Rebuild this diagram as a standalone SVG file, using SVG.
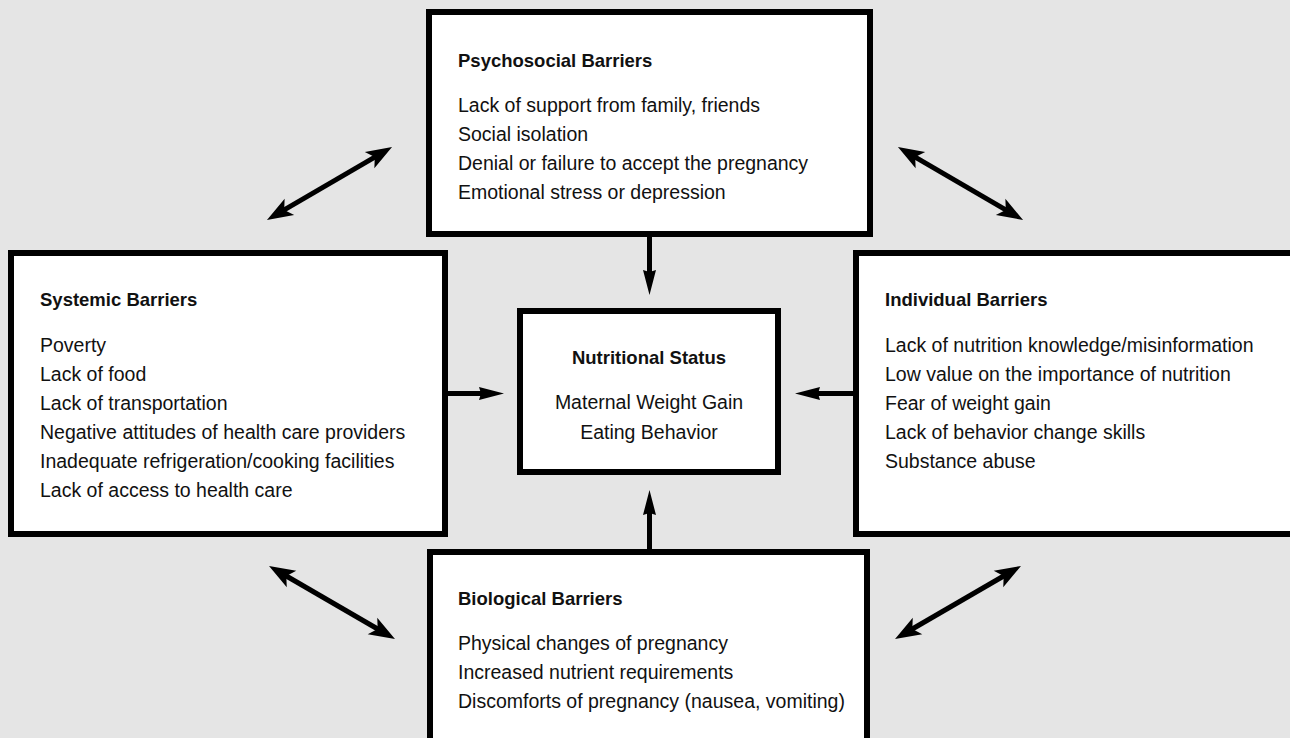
<svg xmlns="http://www.w3.org/2000/svg" width="1290" height="738" viewBox="0 0 1290 738">
<style>
.box{fill:#fff;stroke:#000;stroke-width:6}
.t{font-family:"Liberation Sans",Arial,sans-serif;font-size:19.5px;fill:#111}
.h{font-family:"Liberation Sans",Arial,sans-serif;font-size:18.5px;font-weight:bold;fill:#111}
.c{text-anchor:middle}
.ln{stroke:#000;stroke-width:5;fill:none}
</style>
<defs>
<marker id="dh" markerUnits="userSpaceOnUse" viewBox="-28 -12 30 24" markerWidth="30" markerHeight="24" refX="-18" refY="0" orient="auto-start-reverse">
<path d="M0,0 L-26,-9.5 L-20,0 L-26,9.5 Z" fill="#000"/>
</marker>
<marker id="sh" markerUnits="userSpaceOnUse" viewBox="-28 -10 30 20" markerWidth="30" markerHeight="20" refX="-22" refY="0" orient="auto">
<path d="M0,0 L-25,-6.5 L-23,0 L-25,6.5 Z" fill="#000"/>
</marker>
</defs>
<rect width="1290" height="738" fill="#e5e5e5"/>
<g id="connectors">
<line class="ln" x1="282.5" y1="210.9" x2="376.5" y2="156.1" marker-start="url(#dh)" marker-end="url(#dh)"/>
<line class="ln" x1="913.5" y1="156.1" x2="1007.5" y2="210.9" marker-start="url(#dh)" marker-end="url(#dh)"/>
<line class="ln" x1="284.6" y1="575" x2="379.4" y2="630" marker-start="url(#dh)" marker-end="url(#dh)"/>
<line class="ln" x1="910.6" y1="630" x2="1005.4" y2="575" marker-start="url(#dh)" marker-end="url(#dh)"/>
<line class="ln" x1="649.5" y1="234" x2="649.5" y2="273" marker-end="url(#sh)"/>
<line class="ln" x1="649.5" y1="552" x2="649.5" y2="512" marker-end="url(#sh)"/>
<line class="ln" x1="445" y1="393.5" x2="482" y2="393.5" marker-end="url(#sh)"/>
<line class="ln" x1="856" y1="393.5" x2="817" y2="393.5" marker-end="url(#sh)"/>
</g>
<g id="psychosocial">
<rect class="box" x="429" y="12" width="441" height="222"/>
<text class="h" x="458" y="67">Psychosocial Barriers</text>
<text class="t" x="458" y="112">Lack of support from family, friends</text>
<text class="t" x="458" y="141">Social isolation</text>
<text class="t" x="458" y="170">Denial or failure to accept the pregnancy</text>
<text class="t" x="458" y="199">Emotional stress or depression</text>
</g>
<g id="systemic">
<rect class="box" x="11" y="253" width="434" height="281"/>
<text class="h" x="40" y="306">Systemic Barriers</text>
<text class="t" x="40" y="352">Poverty</text>
<text class="t" x="40" y="381">Lack of food</text>
<text class="t" x="40" y="410">Lack of transportation</text>
<text class="t" x="40" y="439">Negative attitudes of health care providers</text>
<text class="t" x="40" y="468">Inadequate refrigeration/cooking facilities</text>
<text class="t" x="40" y="497">Lack of access to health care</text>
</g>
<g id="nutritional">
<rect class="box" x="520" y="311" width="258" height="161"/>
<text class="h c" x="649" y="364">Nutritional Status</text>
<text class="t c" x="649" y="409">Maternal Weight Gain</text>
<text class="t c" x="649" y="439">Eating Behavior</text>
</g>
<g id="individual">
<rect class="box" x="856" y="253" width="460" height="281"/>
<text class="h" x="885" y="306">Individual Barriers</text>
<text class="t" x="885" y="352">Lack of nutrition knowledge/misinformation</text>
<text class="t" x="885" y="381">Low value on the importance of nutrition</text>
<text class="t" x="885" y="410">Fear of weight gain</text>
<text class="t" x="885" y="439">Lack of behavior change skills</text>
<text class="t" x="885" y="468">Substance abuse</text>
</g>
<g id="biological">
<rect class="box" x="430" y="552" width="437" height="250"/>
<text class="h" x="458" y="605">Biological Barriers</text>
<text class="t" x="458" y="650">Physical changes of pregnancy</text>
<text class="t" x="458" y="679">Increased nutrient requirements</text>
<text class="t" x="458" y="708">Discomforts of pregnancy (nausea, vomiting)</text>
</g>
</svg>
